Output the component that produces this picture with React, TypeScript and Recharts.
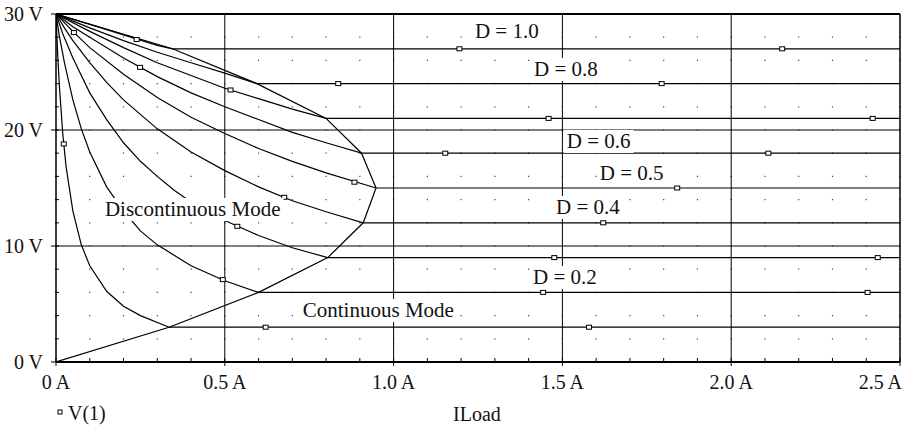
import React, { useLayoutEffect, useRef, useState } from "react";
import {
  ComposedChart, Line, Scatter, XAxis, YAxis, CartesianGrid, ReferenceLine, ReferenceDot, Legend
} from "recharts";

// V(1) vs ILoad, one trace per duty cycle: [ILoad (A), V(1) (V)]
const d01: [number, number][] = [[0, 30], [0.005, 26.5], [0.01, 23.8], [0.02, 19.7], [0.03, 16.8], [0.05, 13.0], [0.075, 10.1], [0.1, 8.3], [0.15, 6.1], [0.2, 4.8], [0.25, 4.0], [0.335, 3.0], [2.5, 3.0]];
const d02: [number, number][] = [[0, 30], [0.01, 28.1], [0.025, 25.8], [0.05, 22.6], [0.075, 20.1], [0.1, 18.1], [0.15, 15.1], [0.2, 13.0], [0.25, 11.3], [0.3, 10.1], [0.4, 8.3], [0.5, 7.0], [0.6, 6.0], [2.5, 6.0]];
const d03: [number, number][] = [[0, 30], [0.02, 28.3], [0.05, 26.2], [0.1, 23.2], [0.15, 20.9], [0.2, 18.9], [0.25, 17.3], [0.3, 16.0], [0.35, 14.8], [0.4, 13.8], [0.45, 12.95], [0.5, 12.2], [0.6, 10.9], [0.7, 9.85], [0.805, 9.0], [2.5, 9.0]];
const d04: [number, number][] = [[0, 30], [0.025, 28.8], [0.05, 27.7], [0.1, 25.8], [0.15, 24.1], [0.2, 22.6], [0.3, 20.1], [0.4, 18.1], [0.5, 16.5], [0.6, 15.1], [0.7, 13.9], [0.8, 12.95], [0.91, 12.0], [2.5, 12.0]];
const d05: [number, number][] = [[0, 30], [0.05, 28.5], [0.1, 27.1], [0.2, 24.8], [0.3, 22.8], [0.4, 21.1], [0.5, 19.7], [0.6, 18.4], [0.7, 17.3], [0.8, 16.3], [0.948, 15.0], [2.5, 15.0]];
const d06: [number, number][] = [[0, 30], [0.05, 28.9], [0.1, 28.0], [0.2, 26.2], [0.3, 24.6], [0.4, 23.2], [0.5, 22.0], [0.6, 20.9], [0.7, 19.8], [0.8, 18.9], [0.905, 18.0], [2.5, 18.0]];
const d07: [number, number][] = [[0, 30], [0.1, 28.5], [0.2, 27.1], [0.3, 25.8], [0.4, 24.7], [0.5, 23.6], [0.6, 22.7], [0.7, 21.8], [0.8, 21.0], [2.5, 21.0]];
const d08: [number, number][] = [[0, 30], [0.1, 28.8], [0.2, 27.7], [0.3, 26.7], [0.4, 25.8], [0.5, 24.9], [0.595, 24.0], [2.5, 24.0]];
const d09: [number, number][] = [[0, 30], [0.1, 29.1], [0.2, 28.2], [0.3, 27.3], [0.345, 27.0], [2.5, 27.0]];
const d10: [number, number][] = [[0, 30], [2.5, 30]];

// continuous / discontinuous boundary
const boundary: [number, number][] = [[0, 0], [0.335, 3], [0.6, 6], [0.805, 9], [0.91, 12], [0.948, 15], [0.905, 18], [0.8, 21], [0.595, 24], [0.345, 27], [0, 30]];

// probe markers drawn on the traces
const markers: [number, number][] = [
  [0.053, 28.4], [0.239, 27.8], [0.249, 25.4], [0.517, 23.45], [0.023, 18.8], [0.676, 14.2],
  [0.537, 11.7], [0.494, 7.1], [0.621, 3.0], [1.195, 27], [2.151, 27], [0.836, 24], [1.794, 24],
  [1.459, 21], [2.419, 21], [1.153, 18], [2.11, 18], [0.884, 15.5], [1.84, 15], [1.621, 12],
  [1.476, 9], [2.434, 9], [1.443, 6], [2.404, 6], [1.579, 3],
];

const traces = [d01, d02, d03, d04, d05, d06, d07, d08, d09, d10, boundary];

const xTicks = [0, 0.1, 0.2, 0.3, 0.4, 0.5, 0.6, 0.7, 0.8, 0.9, 1.0, 1.1, 1.2, 1.3, 1.4, 1.5, 1.6, 1.7, 1.8, 1.9, 2.0, 2.1, 2.2, 2.3, 2.4, 2.5];
const yTicks = [0, 2, 4, 6, 8, 10, 12, 14, 16, 18, 20, 22, 24, 26, 28, 30];

const noteText = ["D = 1.0", "D = 0.8", "D = 0.6", "D = 0.5", "D = 0.4", "D = 0.2", "Continuous Mode", "Discontinuous Mode"];
const noteAt: [number, number][] = [[1.241, 27.93], [1.416, 24.66], [1.513, 18.45], [1.611, 15.69], [1.481, 12.76], [1.413, 6.72], [0.731, 3.88], [0.145, 12.59]];

const W = 911;
const H = 428;
const LEFT = 56;
const RIGHT = 900;
const FONT = "'Liberation Serif', 'Times New Roman', serif";

const toPts = (arr: [number, number][]) => arr.map(([i, v]) => ({ i, v }));
const isMajorX = (v: number) => Math.abs(v * 2 - Math.round(v * 2)) < 1e-6;
const gridX = xTicks.map((t) => LEFT + (t / 2.5) * (RIGHT - LEFT));

const BottomTick = (props: any) => {
  const { x, y, payload, index } = props;
  const v = payload.value as number;
  const major = isMajorX(v);
  const last = index === xTicks.length - 1;
  const label = v === 0 ? "0 A" : `${v.toFixed(1)} A`;
  return (
    <g>
      <line x1={x} x2={x} y1={y - 4} y2={major ? y + 4 : y} stroke="#000" />
      {major && (
        <text x={last ? x + 2 : x} y={y + 27} textAnchor={last ? "end" : "middle"} fontSize={20} fontFamily={FONT} fill="#111">
          {label}
        </text>
      )}
    </g>
  );
};

const LeftTick = (props: any) => {
  const { x, y, payload } = props;
  const v = payload.value as number;
  const major = v % 10 === 0;
  return (
    <g>
      <line x1={major ? x - 5 : x - 1} x2={x + 3} y1={y} y2={y} stroke="#000" />
      {major && (
        <text x={x - 13} y={y} dy="0.35em" textAnchor="end" fontSize={20} fontFamily={FONT} fill="#111">
          {`${v} V`}
        </text>
      )}
    </g>
  );
};

const TopTick = (props: any) => {
  const { x, y } = props;
  return <line x1={x} x2={x} y1={y} y2={y + 3} stroke="#000" />;
};

const RightTick = (props: any) => {
  const { x, y } = props;
  return <line x1={x - 2} x2={x + 2} y1={y} y2={y} stroke="#000" />;
};

const Note = ({ cx, cy, text }: { cx: number; cy: number; text: string }) => {
  const ref = useRef<SVGTextElement>(null);
  const [w, setW] = useState(0);
  useLayoutEffect(() => {
    if (ref.current) setW(ref.current.getBBox().width);
  }, [text]);
  return (
    <g>
      <rect x={cx - 3} y={cy - 18} width={w + 6} height={23} fill="#fff" />
      <text ref={ref} x={cx} y={cy} fontSize={21} fontFamily={FONT} fill="#111">
        {text}
      </text>
    </g>
  );
};

const LegendBox = () => (
  <svg width={120} height={24} style={{ display: "block", overflow: "visible" }}>
    <rect x={58} y={10} width={4} height={4} fill="#fff" stroke="#000" strokeWidth={1} />
    <text x={68} y={19.5} fontSize={20} fontFamily={FONT} fill="#111">V(1)</text>
  </svg>
);

export default function App() {
  return (
    <div style={{ position: "absolute", left: 0, top: 0, width: W, height: H, background: "#fff" }}>
      <ComposedChart width={W} height={H} margin={{ top: 13, right: 10, bottom: 36, left: 0 }}>
        <CartesianGrid
          horizontal={false}
          verticalPoints={gridX}
          stroke="#444"
          strokeWidth={1.2}
          strokeDasharray="1.2 22"
          strokeDashoffset={0.6}
        />
        <XAxis
          xAxisId="b" type="number" dataKey="i" domain={[0, 2.5]} ticks={xTicks} interval={0}
          height={30} tickSize={0} tickMargin={0} tick={<BottomTick />} tickLine={false}
          axisLine={{ stroke: "#000", strokeWidth: 2 }} allowDataOverflow
          label={{
            value: "ILoad",
            content: ({ viewBox }: any) => (
              <text x={viewBox.x + viewBox.width / 2 - 1} y={viewBox.y + 59} textAnchor="middle" fontSize={20} fontFamily={FONT} fill="#111">
                ILoad
              </text>
            ),
          }}
        />
        <XAxis
          xAxisId="t" orientation="top" type="number" dataKey="i" domain={[0, 2.5]} ticks={xTicks} interval={0}
          height={1} tickSize={0} tickMargin={0} tick={<TopTick />} tickLine={false}
          axisLine={{ stroke: "#000", strokeWidth: 2 }}
        />
        <YAxis
          yAxisId="l" type="number" dataKey="v" domain={[0, 30]} ticks={yTicks} interval={0}
          width={56} tickSize={0} tickMargin={0} tick={<LeftTick />} tickLine={false}
          axisLine={{ stroke: "#000", strokeWidth: 1.5 }}
        />
        <YAxis
          yAxisId="r" orientation="right" type="number" dataKey="v" domain={[0, 30]} ticks={yTicks} interval={0}
          width={1} tickSize={0} tickMargin={0} tick={<RightTick />} tickLine={false}
          axisLine={{ stroke: "#000", strokeWidth: 1.5 }}
        />
        {[0.5, 1.0, 1.5, 2.0].map((x) => (
          <ReferenceLine key={`vx${x}`} xAxisId="b" yAxisId="l" x={x} stroke="#000" strokeWidth={1} />
        ))}
        {[10, 20].map((y) => (
          <ReferenceLine key={`hy${y}`} xAxisId="b" yAxisId="l" y={y} stroke="#000" strokeWidth={1} />
        ))}
        {traces.map((t, k) => (
          <Line
            key={k} xAxisId="b" yAxisId="l" data={toPts(t)} dataKey="v" type="linear"
            stroke="#000" strokeWidth={1.2} dot={false} activeDot={false} isAnimationActive={false}
            name={k === 10 ? "boundary" : `D${k + 1}`} legendType="none"
          />
        ))}
        <Scatter
          xAxisId="b" yAxisId="l" data={toPts(markers)} dataKey="v" name="V(1)" isAnimationActive={false}
          shape={(p: any) => <rect x={p.cx - 2.5} y={p.cy - 2} width={5} height={4} fill="#fff" stroke="#000" strokeWidth={1} />}
        />
        {noteText.map((txt, k) => (
          <ReferenceDot
            key={txt} xAxisId="b" yAxisId="l" x={noteAt[k][0]} y={noteAt[k][1]} r={0} ifOverflow="visible"
            shape={(p: any) => <Note cx={p.cx} cy={p.cy} text={txt} />}
          />
        ))}
        <Legend
          layout="horizontal" verticalAlign="middle" align="center"
          content={() => <LegendBox />}
          wrapperStyle={{ position: "absolute", left: 0, top: 400, width: 120, height: 24 }}
        />
      </ComposedChart>
    </div>
  );
}
